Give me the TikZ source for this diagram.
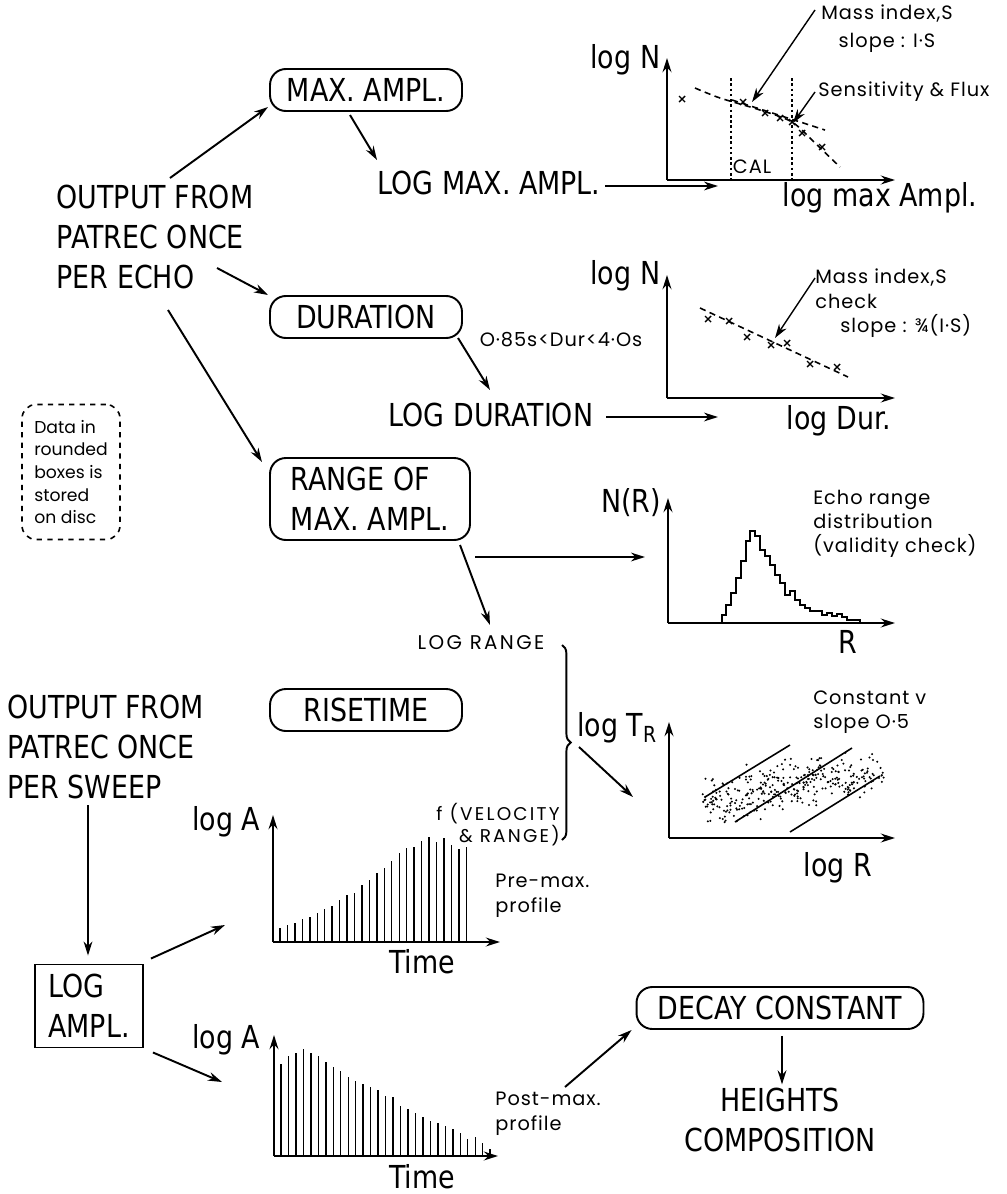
\documentclass[tikz,border=0pt]{standalone}
\usepackage{fontspec}
\newfontfamily\drawfont[FakeStretch=0.85]{DejaVu Sans}
\newfontfamily\notefont[LetterSpace=5]{Poppins}
\newfontfamily\plainnotefont{Poppins}
\newfontfamily\capnotefont[LetterSpace=12]{Poppins}
\usetikzlibrary{positioning, arrows.meta, decorations.pathreplacing, calc}

\newcommand{\ptmark}[1]{\draw[line width=0.8pt] #1 +(-3,-3) -- +(3,3) +(-3,3) -- +(3,-3);}

\begin{document}
\begin{tikzpicture}[
    x=0.02cm, y=-0.02cm,
    >={Stealth[length=8pt, width=5pt]},
    every node/.style={font=\drawfont\fontsize{18}{22.5}\selectfont, inner sep=2pt},
    store/.style={draw, rounded corners=9pt, line width=1.1pt, minimum width=3.84cm, minimum height=0.84cm},
    plainbox/.style={draw, line width=1.1pt, minimum width=2.16cm, minimum height=1.66cm, align=left},
    flow/.style={->, line width=1.1pt},
    pointer/.style={->, line width=0.8pt},
    axis/.style={->, line width=1.3pt},
    fitline/.style={dash pattern=on 3.5pt off 2.5pt, line width=0.9pt},
    note/.style={font=\notefont\fontsize{11}{14}\selectfont, align=left, inner sep=0pt},
    capnote/.style={font=\capnotefont\fontsize{11.3}{12.5}\selectfont, inner sep=0pt},
    caps/.style={align=left, inner sep=0pt},
]
\useasboundingbox (0,0) rectangle (1007,1194);

% flow chart
\node[caps] (echo) at (155,237) {OUTPUT FROM\\PATREC ONCE\\PER ECHO};
\node[store] (maxampl) at (366,90) {MAX. AMPL.};
\node (logmaxampl) at (489,183) {LOG MAX. AMPL.};
\node[store] (duration) at (366,317) {DURATION};
\node[note] (durlimit) at (561,340) {O·85s<Dur<4·Os};
\node (logdur) at (491,415) {LOG DURATION};
\node[store, minimum width=4cm, minimum height=1.64cm, align=left] (range) at (370,499) {RANGE OF\\MAX. AMPL.};
\node[capnote] (logrange) at (481,643) {LOG RANGE};
\node[store] (risetime) at (366,710) {RISETIME};
\node[caps, anchor=west] (sweep) at (7,747) {OUTPUT FROM\\PATREC ONCE\\PER SWEEP};
\node[plainbox] (logampl) at (89,1006) {LOG\\AMPL.};
\node[store, minimum width=5.74cm] (decay) at (780,1008) {DECAY CONSTANT};
\node[align=center] (heights) at (780,1120) {HEIGHTS\\COMPOSITION};
\node[draw, dashed, rounded corners=8pt, line width=0.9pt, note, font=\plainnotefont\fontsize{9.8}{12.9}\selectfont, minimum width=1.96cm, minimum height=2.7cm] (disc) at (71,472) {Data in\\rounded\\boxes is\\stored\\on disc};

\draw[flow] ($(echo.center)+(15,-59)$) -- ($(maxampl.center)+(-98,17)$);
\draw[flow] ($(echo.center)+(62,31)$) -- ($(duration.center)+(-98,-22)$);
\draw[flow] ($(echo.center)+(13,73)$) -- ($(range.center)+(-108,-37)$);
\draw[flow] ($(maxampl.center)+(-16,25)$) -- ($(logmaxampl.center)+(-112,-23)$);
\draw[flow] ($(duration.center)+(92,21)$) -- ($(logdur.center)+(-1,-25)$);
\draw[flow] ($(range.center)+(90,46)$) -- ($(logrange.center)+(9,-18)$);
\draw[flow] ($(sweep.west)+(81,58)$) -- ($(logampl.north)+(-1,-8)$);
\draw[flow] ($(decay.south)+(2,6)$) -- ($(heights.north)+(2,0)$);

% plot 1: log N against log max Ampl.
\coordinate (p1in) at (718,186);
\draw[flow] ($(logmaxampl.center)+(116,3)$) -- (p1in);
\draw[axis] (667,180) -- (667,58);
\draw[axis] (667,180) -- (895,180);
\node[anchor=east] (p1y) at (664,60) {log N};
\node (p1x) at (880,198) {log max Ampl.};
\draw[dash pattern=on 1.5pt off 1.5pt, line width=0.9pt] (731,78) -- (731,180) (792,78) -- (792,180);
\node[note] (cal) at (752,167) {CAL};
\draw[fitline] plot[smooth] coordinates {(695,88) (720,98) (760,110) (792,122) (815,143) (840,167)};
\draw[fitline] (732,100) -- (825,130);
\foreach \p in {(682,99), (743,102), (765,113), (780,118), (792,122), (802,133), (822,147)} {\ptmark{\p}}
\node[note, align=center, font=\notefont\fontsize{11}{16}\selectfont] (massidx1) at (887,29) {Mass index,S\\slope : I·S};
\coordinate (p1fit) at (752,102);
\draw[pointer] ($(massidx1.center)+(-72,-19)$) -- (p1fit);
\node[note, anchor=west] (sensflux) at (818,92) {Sensitivity \& Flux};
\coordinate (p1cut) at (793,123);
\draw[pointer] ($(sensflux.west)+(-3,0)$) -- (p1cut);

% plot 2: log N against log Dur.
\coordinate (p2in) at (718,417);
\draw[flow] ($(logdur.center)+(115,2)$) -- (p2in);
\draw[axis] (667,398) -- (667,275);
\draw[axis] (667,398) -- (895,398);
\node[anchor=east] (p2y) at (664,276) {log N};
\node (p2x) at (839,421) {log Dur.};
\draw[fitline] (700,308) -- (848,377);
\foreach \p in {(708,319), (729,321), (747,337), (771,345), (787,343), (810,364), (837,367)} {\ptmark{\p}}
\node[note, anchor=north west, font=\notefont\fontsize{11}{14.2}\selectfont] (massidx2) at (815,268) {Mass index,S\\check\\\hspace*{5mm}slope : ¾(I·S)};
\coordinate (p2fit) at (775,338);
\draw[pointer] ($(massidx2.north west)+(0,10)$) -- (p2fit);

% plot 3: N(R) against R
\coordinate (p3in) at (645,557);
\draw[flow] ($(range.center)+(105,58)$) -- (p3in);
\draw[axis] (668,623) -- (668,498);
\draw[axis] (668,623) -- (895,623);
\node[anchor=east] (p3y) at (665,503) {N(R)};
\node (p3x) at (848,642) {R};
\draw[line width=1pt] (722,623) \foreach \x/\h in {726/8, 731/18, 736/30, 741/45, 746/62, 750/82, 755/92, 760/87, 765/73, 770/67, 775/58, 780/48, 785/40, 790/28, 795/32, 800/23, 805/18, 810/15, 822/12, 827/8, 832/10, 837/7, 842/9, 847/6, 860/3} { |- (\x,623-\h) } -- (860,623);
\node[note, anchor=north west, font=\notefont\fontsize{11}{13.6}\selectfont] (echorange) at (813,490) {Echo range\\distribution\\(validity check)};

% plot 4: log T against log R
\draw[decorate, decoration={brace, amplitude=5pt}, line width=1.1pt] (562,645) -- (562,840);
\coordinate (bracetip) at (579,747);
\coordinate (p4in) at (633,797);
\draw[flow] (bracetip) -- (p4in);
\draw[axis] (669,838) -- (669,722);
\draw[axis] (669,838) -- (895,838);
\node[anchor=east] (p4y) at (661,728) {log T\textsubscript{R}};
\node (p4x) at (838,868) {log R};
\node[note, anchor=north west] (constv) at (813,690) {Constant v\\slope O·5};
\pgfmathsetseed{7}
\foreach \i in {1,...,330} {
  \pgfmathsetmacro\ux{702+182*rnd}
  \pgfmathsetmacro\vy{800-0.15*(\ux-702)+34*(rnd+rnd+rnd-1.5)/1.5}
  \fill (\ux,\vy) circle[radius=0.65pt];
}
\draw[line width=0.9pt] (705,797) -- (790,745) (735,822) -- (852,748) (790,832) -- (880,776);

% plot 5: pre-max profile
\node[align=right, anchor=north east, capnote, font=\capnotefont\fontsize{10.5}{12.5}\selectfont] (fvel) at (560,803) {f (VELOCITY\\\& RANGE)};
\coordinate (p5in) at (225,925);
\draw[flow] ($(logampl.north east)+(7,-5)$) -- (p5in);
\draw[axis] (273,942) -- (273,815);
\draw[axis] (273,942) -- (500,942);
\node[anchor=east] (p5y) at (264,822) {log A};
\node (p5x) at (422,962) {Time};
\foreach \h [count=\i from 0] in {14,17,19,23,25,29,33,36,42,47,49,57,62,69,74,81,89,94,95,101,105,100,104,97,93,95}
  \draw[line width=0.8pt] (280+7.45*\i,942) -- ++(0,-\h);
\node[note, anchor=north west] (prelbl) at (495,874) {Pre-max.\\profile};

% plot 6: post-max profile
\coordinate (p6in) at (222,1082);
\draw[flow] ($(logampl.south east)+(9,4)$) -- (p6in);
\draw[axis] (274,1156) -- (274,1035);
\draw[axis] (274,1156) -- (498,1156);
\node[anchor=east] (p6y) at (264,1040) {log A};
\node (p6x) at (422,1177) {Time};
\foreach \h [count=\i from 0] in {92,100,103,107,103,100,94,89,85,79,75,72,69,66,60,59,50,47,43,39,35,33,30,27,23,17,19,13,7}
  \draw[line width=0.8pt] (281+7.47*\i,1156) -- ++(0,-\h);
\node[note, anchor=north west] (postlbl) at (495,1092) {Post-max.\\profile};
\draw[flow] ($(postlbl.north west)+(70,-5)$) -- ($(decay.west)+(-4,22)$);
\end{tikzpicture}
\end{document}
